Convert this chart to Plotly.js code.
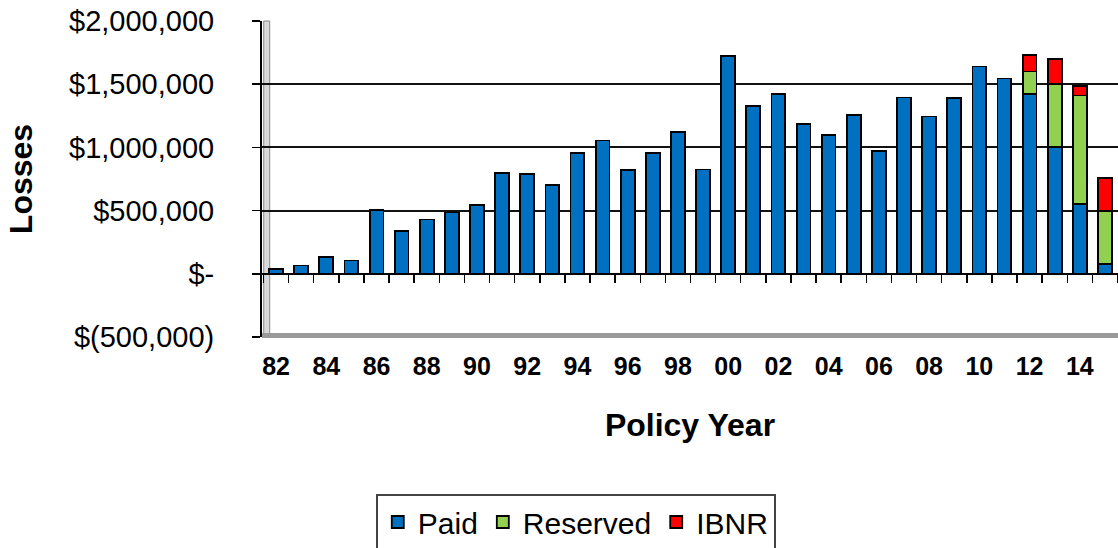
<!DOCTYPE html>
<html>
<head>
<meta charset="utf-8">
<script src="https://cdn.plot.ly/plotly-3.0.1.min.js"></script>
<style>html,body{margin:0;padding:0;background:#fff;}#chart{width:1118px;height:548px;}</style>
</head>
<body>
<div id="chart"></div>
<script>
// Policy years (two-digit labels), 1982–2015
const years = ['82','83','84','85','86','87','88','89','90','91','92','93','94','95','96','97','98','99',
               '00','01','02','03','04','05','06','07','08','09','10','11','12','13','14','15'];
// Paid losses
const paid = [35000, 65000, 130000, 105000, 505000, 340000, 430000, 485000, 545000, 795000, 790000, 705000,
              955000, 1055000, 820000, 955000, 1125000, 825000, 1720000, 1325000, 1420000, 1185000, 1100000, 1255000,
              970000, 1395000, 1245000, 1390000, 1640000, 1545000, 1420000, 1005000, 550000, 80000];
// Reserved losses
const reserved = [0,0,0,0,0,0,0,0,0,0,0,0,0,0,0,0,0,0,0,0,0,0,0,0,0,0,0,0,0,0, 180000, 495000, 860000, 420000];
// IBNR
const ibnr = [0,0,0,0,0,0,0,0,0,0,0,0,0,0,0,0,0,0,0,0,0,0,0,0,0,0,0,0,0,0, 130000, 200000, 75000, 255000];
// X tick labels (every other year)
const xTickLabels = years.map((y, i) => (i % 2 === 0 ? y : ''));
// Y ticks
const yTickVals = [-500000, 0, 500000, 1000000, 1500000, 2000000];
const yTickLabels = ['$(500,000)', '$-', '$500,000', '$1,000,000', '$1,500,000', '$2,000,000'];

const font = 'Liberation Sans, Arial, sans-serif';
const edge = {color: '#000', width: 1.8};

const traces = [
  {type: 'bar', name: 'Paid', x: years, y: paid, marker: {color: '#0070C0', line: edge}, width: 0.55},
  {type: 'bar', name: 'Reserved', x: years, y: reserved, marker: {color: '#92D050', line: edge}, width: 0.55},
  {type: 'bar', name: 'IBNR', x: years, y: ibnr, marker: {color: '#FF0000', line: edge}, width: 0.55}
];

const layout = {
  width: 1118, height: 548,
  margin: {l: 262, r: 0, t: 21, b: 211, pad: 0},
  paper_bgcolor: '#fff', plot_bgcolor: '#fff',
  font: {family: font, color: '#000'},
  barmode: 'stack',
  showlegend: true,
  legend: {
    orientation: 'h', xref: 'container', yref: 'container',
    x: 0.515, xanchor: 'center', y: 1 - 494 / 548, yanchor: 'top',
    bordercolor: '#444', borderwidth: 2, bgcolor: '#fff',
    font: {family: font, size: 30, color: '#000'},
    traceorder: 'normal', itemwidth: 30
  },
  xaxis: {
    type: 'category', range: [-0.56, 33.52],
    anchor: 'free', position: 0.2,
    tickmode: 'array', tickvals: years, ticktext: xTickLabels, tickangle: 0,
    tickson: 'boundaries', ticks: 'outside', ticklen: 8, tickwidth: 1.5, tickcolor: '#000',
    ticklabelstandoff: 70,
    showline: true, linecolor: '#000', linewidth: 2,
    showgrid: false, zeroline: false,
    tickfont: {family: font, size: 25, color: '#000', weight: 'bold'},
    title: {text: 'Policy Year', font: {family: font, size: 32, color: '#000', weight: 'bold'}, standoff: 34}
  },
  yaxis: {
    range: [-500000, 2000000],
    tickmode: 'array', tickvals: yTickVals, ticktext: yTickLabels,
    ticks: 'outside', ticklen: 8, tickwidth: 1.5, tickcolor: '#000',
    ticklabelstandoff: 32,
    showline: true, linecolor: '#000', linewidth: 2,
    showgrid: true, gridcolor: '#111', gridwidth: 2,
    zeroline: false,
    tickfont: {family: font, size: 29, color: '#000'},
    title: {text: 'Losses', font: {family: font, size: 32, color: '#000', weight: 'bold'}, standoff: 27}
  },
  shapes: [
    {type: 'rect', xref: 'paper', yref: 'paper', x0: 0.002, x1: 0.009, y0: 0, y1: 1,
     fillcolor: '#d9d9d9', line: {color: '#888', width: 1}, layer: 'below'},
    {type: 'line', xref: 'paper', yref: 'paper', x0: 0, x1: 1, y0: 0.005, y1: 0.005,
     line: {color: '#9a9a9a', width: 5}, layer: 'below'}
  ]
};

Plotly.newPlot('chart', traces, layout, {displayModeBar: false, staticPlot: true});
</script>
</body>
</html>
